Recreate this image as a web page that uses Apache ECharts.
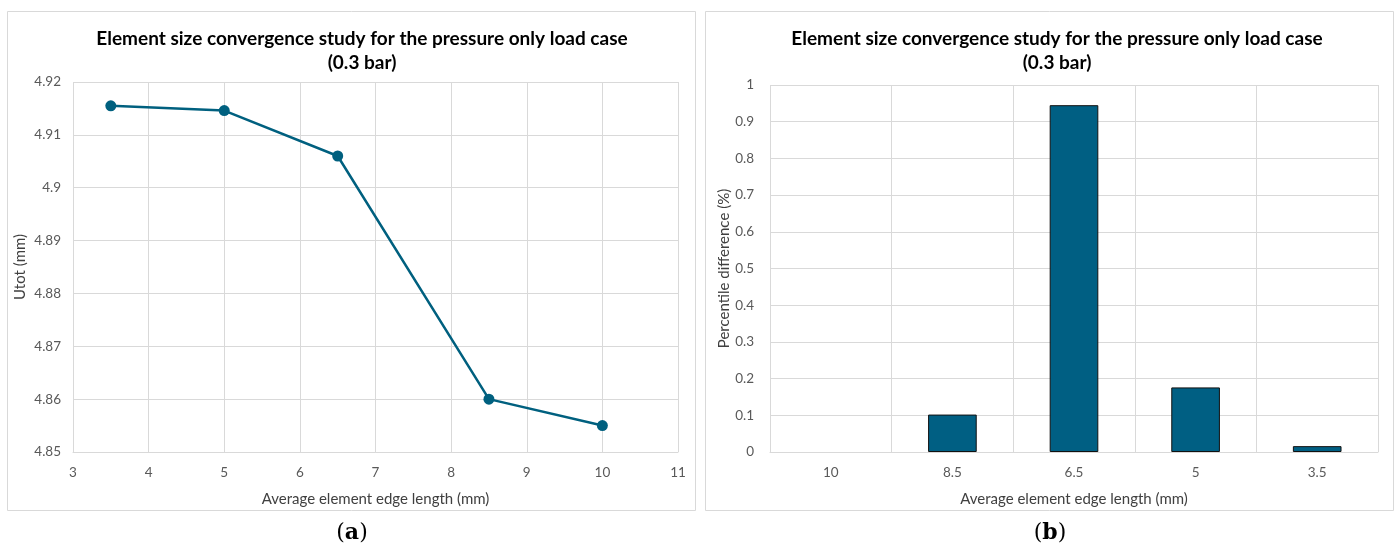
<!DOCTYPE html>
<html>
<head>
<meta charset="utf-8">
<script src="https://cdn.jsdelivr.net/npm/echarts@6/dist/echarts.min.js"></script>
<style>
  html, body { margin: 0; padding: 0; background: #fff; }
  #chart { width: 1396px; height: 546px; }
</style>
</head>
<body>
<div id="chart"></div>
<script>
// Panel (a): total displacement against element edge length
const edgeLengthA = [3.5, 5, 6.5, 8.5, 10];
const utotValues = [4.9155, 4.9146, 4.906, 4.860, 4.855];

// Panel (b): percentile difference between successive meshes
const edgeCategoriesB = ['10', '8.5', '6.5', '5', '3.5'];
const percentDiff = [0, 0.102, 0.945, 0.176, 0.016];

const titleText = 'Element size convergence study for the pressure only load case\n(0.3 bar)';
const xName = 'Average element edge length (mm)';

const font = 'Lato, "Open Sans", sans-serif';
const tickColor = '#595959';
const gridColor = '#d9d9d9';
const lineColor = '#00607f';
const barColor = '#005f83';

const chart = echarts.init(document.getElementById('chart'), null, { renderer: 'canvas' });

const titleStyle = {
  fontFamily: font, fontSize: 19, fontWeight: 'bold', color: '#000', lineHeight: 24
};

const nameStyle = { fontFamily: font, fontSize: 15, color: '#404040' };

chart.setOption({
  animation: false,
  backgroundColor: '#fff',
  title: [
    { text: titleText, left: 357, top: 22, textAlign: 'center', textStyle: titleStyle },
    { text: titleText, left: 1052, top: 22, textAlign: 'center', textStyle: titleStyle }
  ],
  graphic: [
    { type: 'rect', shape: { x: 7.5, y: 11.5, width: 688, height: 499 },
      style: { fill: 'none', stroke: gridColor, lineWidth: 1 }, z: -1 },
    { type: 'rect', shape: { x: 705.5, y: 11.5, width: 688, height: 499 },
      style: { fill: 'none', stroke: gridColor, lineWidth: 1 }, z: -1 },
    { type: 'text', x: 352, y: 533,
      style: { text: '({b|a})', fill: '#000', font: '22px "DejaVu Serif", serif',
        align: 'center', verticalAlign: 'middle',
        rich: { b: { fontWeight: 'bold', fontSize: 22, fontFamily: '"DejaVu Serif", serif' } } } },
    { type: 'text', x: 1050, y: 533,
      style: { text: '({b|b})', fill: '#000', font: '22px "DejaVu Serif", serif',
        align: 'center', verticalAlign: 'middle',
        rich: { b: { fontWeight: 'bold', fontSize: 22, fontFamily: '"DejaVu Serif", serif' } } } }
  ],
  grid: [
    { left: 73, right: 718, top: 82, bottom: 94 },
    { left: 770, right: 18, top: 85, bottom: 94 }
  ],
  xAxis: [
    {
      gridIndex: 0, type: 'value', min: 3, max: 11, interval: 1,
      name: xName, nameLocation: 'middle', nameGap: 40, nameTextStyle: nameStyle,
      axisLine: { show: true, lineStyle: { color: gridColor } },
      axisTick: { show: false },
      axisLabel: { fontFamily: font, fontSize: 13.5, color: tickColor, margin: 14 },
      splitLine: { show: true, lineStyle: { color: gridColor } }
    },
    {
      gridIndex: 1, type: 'category', data: edgeCategoriesB,
      name: xName, nameLocation: 'middle', nameGap: 40, nameTextStyle: nameStyle,
      axisLine: { show: true, lineStyle: { color: gridColor } },
      axisTick: { show: false },
      axisLabel: { fontFamily: font, fontSize: 13.5, color: tickColor, margin: 14 },
      splitLine: { show: true, lineStyle: { color: gridColor } }
    }
  ],
  yAxis: [
    {
      gridIndex: 0, type: 'value', min: 4.85, max: 4.92, interval: 0.01,
      name: 'Utot (mm)', nameLocation: 'middle', nameGap: 45, nameRotate: 90,
      nameTextStyle: nameStyle,
      axisLine: { show: false }, axisTick: { show: false },
      axisLabel: { fontFamily: font, fontSize: 13.5, color: tickColor, margin: 12,
        formatter: v => String(parseFloat(v.toFixed(2))) },
      splitLine: { show: true, lineStyle: { color: gridColor } }
    },
    {
      gridIndex: 1, type: 'value', min: 0, max: 1, interval: 0.1,
      name: 'Percentile difference (%)', nameLocation: 'middle', nameGap: 37, nameRotate: 90,
      nameTextStyle: nameStyle,
      axisLine: { show: false }, axisTick: { show: false },
      axisLabel: { fontFamily: font, fontSize: 13.5, color: tickColor, margin: 16,
        formatter: v => String(parseFloat(v.toFixed(1))) },
      splitLine: { show: true, lineStyle: { color: gridColor } }
    }
  ],
  series: [
    {
      type: 'line', xAxisIndex: 0, yAxisIndex: 0,
      data: edgeLengthA.map((x, i) => [x, utotValues[i]]),
      symbol: 'circle', symbolSize: 11,
      lineStyle: { color: lineColor, width: 2.5 },
      itemStyle: { color: lineColor }
    },
    {
      type: 'bar', xAxisIndex: 1, yAxisIndex: 1,
      // a zero-height bar leaves no outline
      data: percentDiff.map(v => (v === 0 ? { value: v, itemStyle: { borderWidth: 0 } } : v)),
      barWidth: '40%',
      itemStyle: { color: barColor, borderColor: '#111', borderWidth: 1 }
    }
  ]
});
</script>
</body>
</html>
